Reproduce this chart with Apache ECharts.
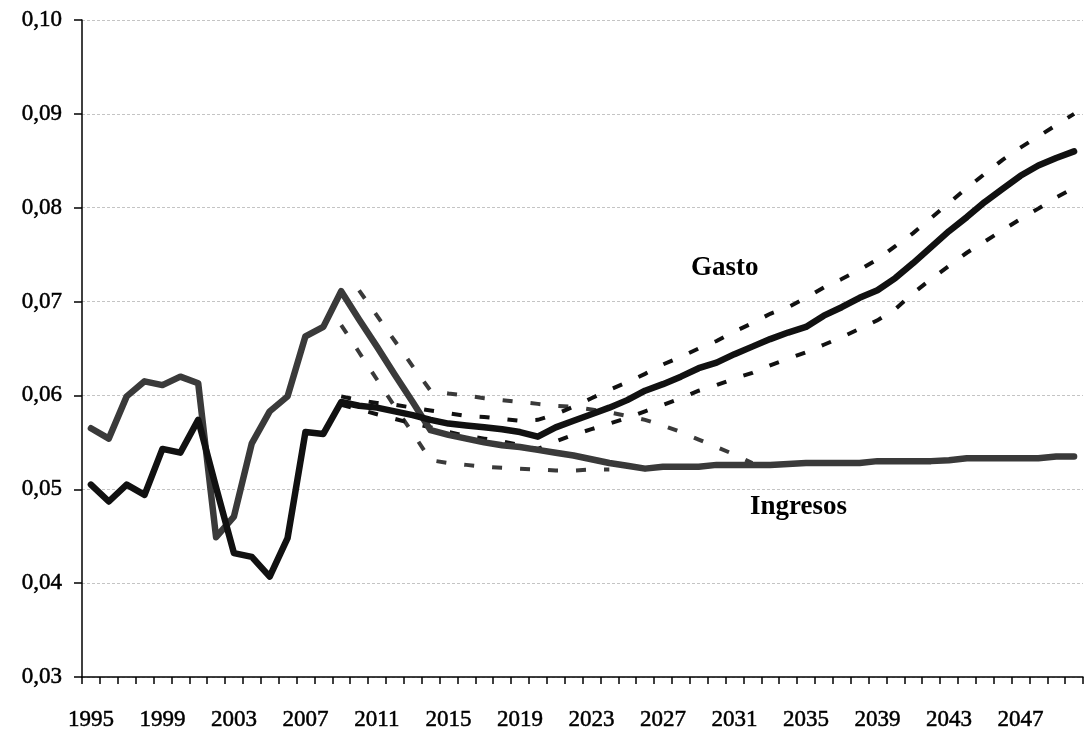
<!DOCTYPE html>
<html>
<head>
<meta charset="utf-8">
<title>Gasto e Ingresos</title>
<script src="https://cdn.jsdelivr.net/npm/echarts@6/dist/echarts.min.js"></script>
<style>
  html, body { margin: 0; padding: 0; background: #ffffff; }
  #chart { width: 1089px; height: 733px; }
</style>
</head>
<body>
<div id="chart"></div>
<script>
// Years on the horizontal axis (one category per year)
const years = [];
for (let y = 1995; y <= 2050; y++) years.push(String(y));

// Spending, central path (1995-2050)
const gasto = [
  0.0505, 0.0487, 0.0505, 0.0494, 0.0543, 0.0539, 0.0574, 0.0502, 0.0432, 0.0428,
  0.0407, 0.0448, 0.0561, 0.0559, 0.0593, 0.0589, 0.0587, 0.0583, 0.0579, 0.0574,
  0.0570, 0.0568, 0.0566, 0.0564, 0.0561, 0.0556, 0.0566, 0.0573, 0.0580, 0.0587,
  0.0595, 0.0605, 0.0612, 0.0620, 0.0629, 0.0635, 0.0644, 0.0652, 0.0660, 0.0667,
  0.0673, 0.0685, 0.0694, 0.0704, 0.0712, 0.0725, 0.0741, 0.0758, 0.0775, 0.0790,
  0.0806, 0.0820, 0.0834, 0.0845, 0.0853, 0.0860
];

// Revenue, central path (1995-2050)
const ingresos = [
  0.0565, 0.0554, 0.0599, 0.0615, 0.0611, 0.0620, 0.0613, 0.0449, 0.0471, 0.0549,
  0.0583, 0.0599, 0.0663, 0.0673, 0.0711, 0.0681, 0.0652, 0.0622, 0.0593, 0.0563,
  0.0558, 0.0554, 0.0550, 0.0547, 0.0545, 0.0542, 0.0539, 0.0536, 0.0532, 0.0528,
  0.0525, 0.0522, 0.0524, 0.0524, 0.0524, 0.0526, 0.0526, 0.0526, 0.0526, 0.0527,
  0.0528, 0.0528, 0.0528, 0.0528, 0.0530, 0.0530, 0.0530, 0.0530, 0.0531, 0.0533,
  0.0533, 0.0533, 0.0533, 0.0533, 0.0535, 0.0535
];

// Spending band, upper and lower (from 2009)
const gastoAltoDesde = 2009;
const gastoAlto = [
  0.0599, 0.0595, 0.0592, 0.0590, 0.0587, 0.0584, 0.0581, 0.0578, 0.0577, 0.0575,
  0.0573, 0.0574, 0.0580, 0.0588, 0.0597, 0.0606, 0.0614, 0.0623, 0.0633, 0.0641,
  0.0650, 0.0658, 0.0668, 0.0677, 0.0687, 0.0694, 0.0704, 0.0715, 0.0724, 0.0734,
  0.0745, 0.0759, 0.0773, 0.0789, 0.0805, 0.0821, 0.0836, 0.0851, 0.0864, 0.0876,
  0.0888, 0.0900
];
const gastoBajoDesde = 2009;
const gastoBajo = [
  0.0590, 0.0585, 0.0580, 0.0575, 0.0570, 0.0566, 0.0561, 0.0557, 0.0554, 0.0551,
  0.0547, 0.0543, 0.0551, 0.0558, 0.0564, 0.0570, 0.0576, 0.0583, 0.0590, 0.0597,
  0.0605, 0.0611, 0.0618, 0.0624, 0.0632, 0.0639, 0.0646, 0.0654, 0.0662, 0.0671,
  0.0680, 0.0692, 0.0709, 0.0724, 0.0738, 0.0752, 0.0764, 0.0776, 0.0788, 0.0799,
  0.0811, 0.0821
];

// Revenue band, upper (2010-2032) and lower (2009-2024)
const ingresosAltoDesde = 2010;
const ingresosAlto = [
  0.0712, 0.0685, 0.0658, 0.0631, 0.0605, 0.0602, 0.0600, 0.0597, 0.0595, 0.0593,
  0.0591, 0.0589, 0.0588, 0.0585, 0.0582, 0.0578, 0.0574, 0.0568, 0.0561, 0.0553,
  0.0545, 0.0537, 0.0528
];
const ingresosBajoDesde = 2009;
const ingresosBajo = [
  0.0675, 0.0646, 0.0617, 0.0588, 0.0560, 0.0531, 0.0528, 0.0526, 0.0524, 0.0523,
  0.0522, 0.0521, 0.0520, 0.0520, 0.0521, 0.0521
];

// Place a partial series on the full year axis (nulls where it is not defined)
function onAxis(values, fromYear) {
  const out = years.map(() => null);
  const start = fromYear - 1995;
  values.forEach((v, i) => { out[start + i] = v; });
  return out;
}

const FONT = '"Liberation Serif", "Times New Roman", serif';
const BLACK = '#111111';
const GREY = '#3a3a3a';

function solid(name, data, color) {
  return {
    name, type: 'line', data, symbol: 'none', silent: true, z: 3,
    lineStyle: { color, width: 6.5, cap: 'round', join: 'round' }
  };
}
function dashed(name, data, color) {
  return {
    name, type: 'line', data, symbol: 'none', silent: true, z: 2,
    connectNulls: false,
    lineStyle: { color, width: 4, type: [10, 18], cap: 'butt', join: 'miter' }
  };
}

// Axis text is drawn slightly heavier than the regular serif face
const axisText = {
  color: '#000', fontFamily: FONT, fontSize: 23,
  textBorderColor: '#000', textBorderWidth: 0.5
};

const chart = echarts.init(document.getElementById('chart'), null, { renderer: 'canvas' });
chart.setOption({
  animation: false,
  backgroundColor: '#ffffff',
  grid: { left: 82, right: 6, top: 20, bottom: 56, containLabel: false },
  xAxis: {
    type: 'category',
    data: years,
    boundaryGap: true,
    axisLine: { show: true, lineStyle: { color: '#000', width: 1.5 } },
    axisTick: { show: true, interval: 0, length: 7, lineStyle: { color: '#000', width: 1.5 } },
    axisLabel: Object.assign({ interval: 3, margin: 31 }, axisText),
    splitLine: { show: false }
  },
  yAxis: {
    type: 'value',
    min: 0.03, max: 0.10, interval: 0.01,
    axisLine: { show: true, lineStyle: { color: '#000', width: 1.5 } },
    axisTick: { show: true, length: 8, lineStyle: { color: '#000', width: 1.5 } },
    axisLabel: Object.assign({
      margin: 20,
      formatter: v => v.toFixed(2).replace('.', ',')
    }, axisText),
    splitLine: { show: true, lineStyle: { color: '#c4c4c4', width: 1, type: [3, 2] } }
  },
  series: [
    dashed('Ingresos alto', onAxis(ingresosAlto, ingresosAltoDesde), GREY),
    dashed('Ingresos bajo', onAxis(ingresosBajo, ingresosBajoDesde), GREY),
    dashed('Gasto alto', onAxis(gastoAlto, gastoAltoDesde), BLACK),
    dashed('Gasto bajo', onAxis(gastoBajo, gastoBajoDesde), BLACK),
    solid('Ingresos', ingresos, GREY),
    solid('Gasto', gasto, BLACK)
  ],
  graphic: [
    {
      type: 'text', left: 691, top: 255,
      style: { text: 'Gasto', fill: '#000', font: 'bold 27px ' + FONT }
    },
    {
      type: 'text', left: 750, top: 494,
      style: { text: 'Ingresos', fill: '#000', font: 'bold 27px ' + FONT }
    }
  ]
});
</script>
</body>
</html>
